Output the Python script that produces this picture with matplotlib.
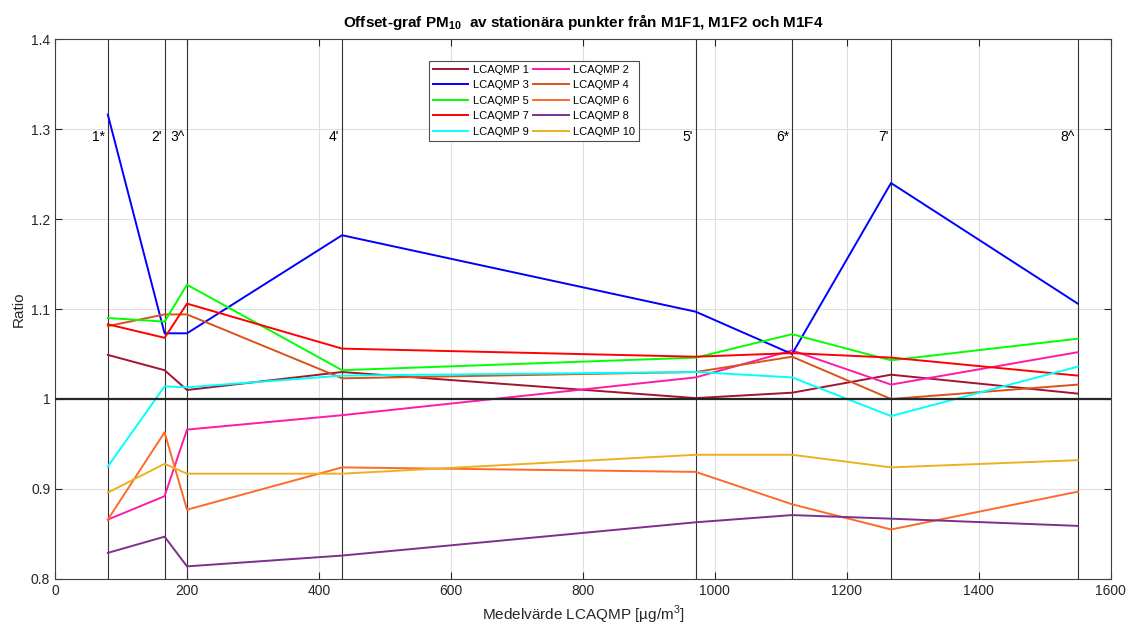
import matplotlib
matplotlib.use('Agg')
import matplotlib.pyplot as plt

plt.rcParams['font.family'] = ['Liberation Sans', 'DejaVu Sans']
plt.rcParams['mathtext.fontset'] = 'custom'
plt.rcParams['mathtext.rm'] = 'Liberation Sans'
plt.rcParams['mathtext.bf'] = 'Liberation Sans:bold'

# medelvarde per punkt
x = [80, 166, 200, 435, 971, 1117, 1267, 1550]
punkter = ["1*", "2'", "3^", "4'", "5'", "6*", "7'", "8^"]

names = ['LCAQMP %d' % i for i in range(1, 11)]
lc1 = [1.049, 1.032, 1.010, 1.030, 1.001, 1.007, 1.027, 1.006]
lc2 = [0.866, 0.892, 0.966, 0.982, 1.024, 1.054, 1.016, 1.052]
lc3 = [1.316, 1.073, 1.073, 1.182, 1.097, 1.050, 1.240, 1.106]
lc4 = [1.081, 1.094, 1.094, 1.023, 1.030, 1.047, 1.000, 1.016]
lc5 = [1.090, 1.086, 1.127, 1.032, 1.046, 1.072, 1.043, 1.067]
lc6 = [0.866, 0.963, 0.877, 0.924, 0.919, 0.883, 0.855, 0.897]
lc7 = [1.083, 1.068, 1.106, 1.056, 1.047, 1.051, 1.046, 1.026]
lc8 = [0.829, 0.847, 0.814, 0.826, 0.863, 0.871, 0.867, 0.859]
lc9 = [0.925, 1.014, 1.013, 1.026, 1.030, 1.024, 0.981, 1.036]
lc10 = [0.896, 0.928, 0.917, 0.917, 0.938, 0.938, 0.924, 0.932]
series = [lc1, lc2, lc3, lc4, lc5, lc6, lc7, lc8, lc9, lc10]
colors = ['#A2142F', '#FF1AA8', '#0000FF', '#D95319', '#00FF00',
          '#FF6A2A', '#FF0000', '#7E2F8E', '#00FFFF', '#EDB120']

fig = plt.figure(figsize=(11.28, 6.3), dpi=100)
ax = fig.add_axes([0.0488, 0.081, 0.9359, 0.857])

for xv in x:
    ax.axvline(xv, color='0.2', lw=0.8, zorder=1)
for xv, p in zip(x, punkter):
    ax.text(xv - 4, 1.291, p, ha='right', va='center', fontsize=10)

ax.axhline(1.0, color='0.15', lw=1.6, zorder=3)

lines = []
for s, c, n in zip(series, colors, names):
    l, = ax.plot(x, s, color=c, lw=1.4, label=n, zorder=2)
    lines.append(l)

order = [0, 2, 4, 6, 8, 1, 3, 5, 7, 9]
leg = ax.legend([lines[i] for i in order], [names[i] for i in order], ncol=2,
                loc='upper left', bbox_to_anchor=(0.349, 0.97), fontsize=8,
                fancybox=False, edgecolor='0.3', framealpha=1,
                handlelength=3.2, handletextpad=0.4, columnspacing=0.4,
                labelspacing=0.5, borderpad=0.35)
leg.get_frame().set_linewidth(0.8)

ax.set_xlim(0, 1600)
ax.set_ylim(0.8, 1.4)
ax.set_xticks(range(0, 1601, 200))
ax.set_yticks([0.8, 0.9, 1.0, 1.1, 1.2, 1.3, 1.4])
ax.set_yticklabels(['0.8', '0.9', '1', '1.1', '1.2', '1.3', '1.4'])
ax.grid(True, color='0.88', lw=0.8)
ax.set_axisbelow(True)
ax.tick_params(direction='in', top=True, right=True, labelsize=10, colors='0.15', length=5)
for sp in ax.spines.values():
    sp.set_color('0.25')
    sp.set_linewidth(0.8)

ax.set_title(r'Offset-graf PM$_{\mathbf{10}}$  av stationära punkter från M1F1, M1F2 och M1F4',
             fontsize=11, fontweight='bold', pad=9)
ax.set_xlabel(r'Medelvärde LCAQMP [µg/m$^3$]', fontsize=11, color='0.15')
ax.set_ylabel('Ratio', fontsize=11, color='0.15')

fig.savefig('out.png', dpi=100)
